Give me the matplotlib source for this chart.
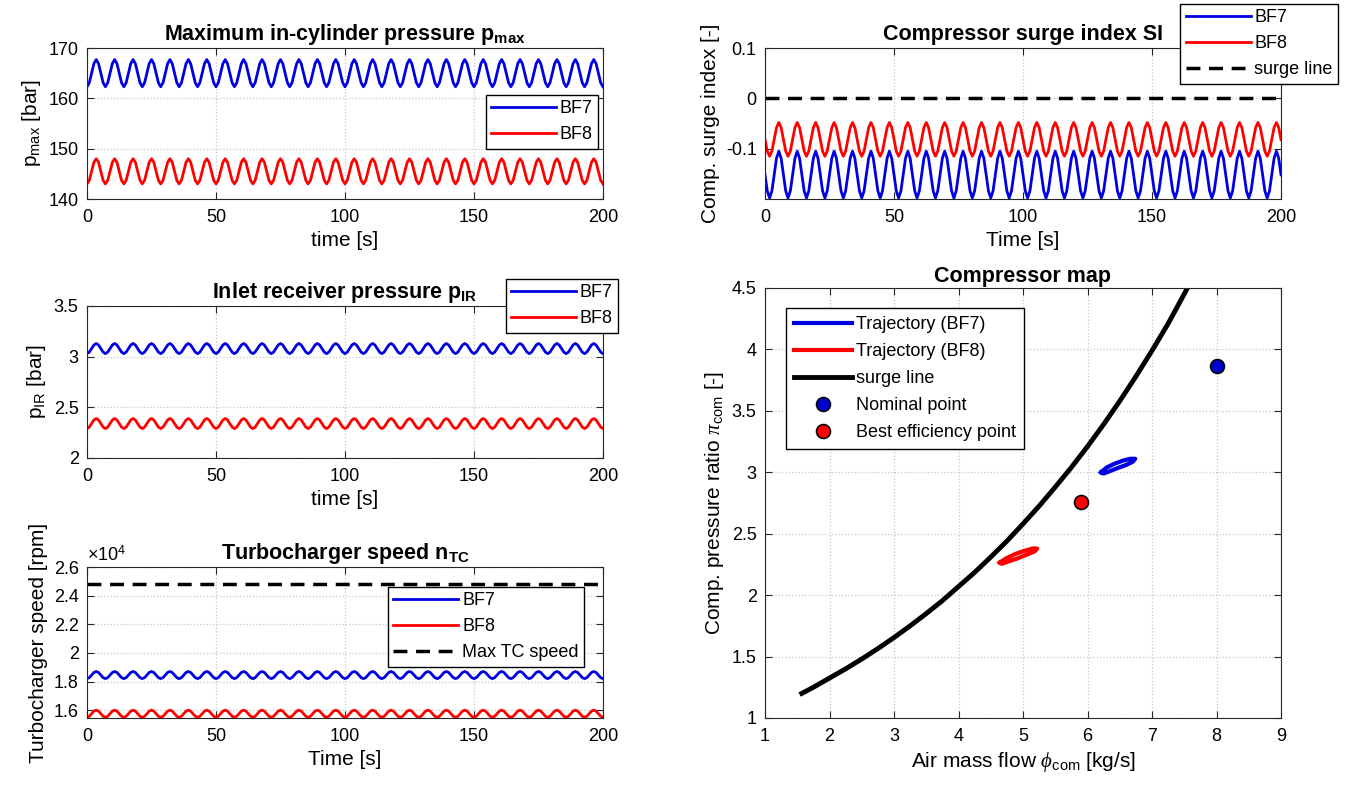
import numpy as np
import matplotlib
matplotlib.use("Agg")
import matplotlib.pyplot as plt

plt.rcParams['font.family'] = ['Liberation Sans', 'DejaVu Sans']
plt.rcParams['mathtext.fontset'] = 'custom'
plt.rcParams['mathtext.rm'] = 'Liberation Sans'
plt.rcParams['mathtext.it'] = 'Liberation Serif:italic'
plt.rcParams['mathtext.bf'] = 'Liberation Sans:bold'
plt.rcParams['xtick.direction'] = 'in'
plt.rcParams['ytick.direction'] = 'in'
plt.rcParams['xtick.top'] = True
plt.rcParams['ytick.right'] = True
plt.rcParams['axes.edgecolor'] = '#262626'

# ---- data ----
t_end = 200.0
n_cycles = 28          # oscillation cycles over 200 s
# one oscillation cycle (8 samples) for each signal, repeated over the run
pmax_bf7_cycle = [162.3, 163.1, 165.0, 166.9, 167.7, 166.9, 165.0, 163.1]
pmax_bf8_cycle = [143.0, 143.7, 145.5, 147.3, 148.0, 147.3, 145.5, 143.7]
pir_bf7_cycle = [3.03, 3.045, 3.08, 3.115, 3.13, 3.115, 3.08, 3.045]
pir_bf8_cycle = [2.29, 2.305, 2.34, 2.375, 2.39, 2.375, 2.34, 2.305]
ntc_bf7_cycle = [18200, 18270, 18450, 18630, 18700, 18630, 18450, 18270]
ntc_bf8_cycle = [15500, 15570, 15750, 15930, 16000, 15930, 15750, 15570]
si_bf7_cycle = [-0.152, -0.184, -0.198, -0.184, -0.152, -0.119, -0.105, -0.119]
si_bf8_cycle = [-0.082, -0.105, -0.115, -0.105, -0.082, -0.058, -0.048, -0.058]
ntc_max = 24800
si_surge = 0.0

# compressor map
surge_flow = [1.57, 1.75, 2.0, 2.25, 2.5, 2.75, 3.0, 3.25, 3.5, 3.75, 4.0, 4.25, 4.5,
              4.75, 5.0, 5.25, 5.5, 5.75, 6.0, 6.25, 6.5, 6.75, 7.0, 7.25, 7.55]
surge_pr = [1.20, 1.25, 1.325, 1.40, 1.48, 1.565, 1.655, 1.75, 1.85, 1.955, 2.07, 2.185, 2.31,
            2.44, 2.58, 2.725, 2.88, 3.04, 3.21, 3.39, 3.58, 3.78, 3.99, 4.21, 4.50]
traj_bf7_flow = [6.21, 6.30, 6.42, 6.55, 6.66, 6.74, 6.70, 6.60, 6.47, 6.35, 6.25, 6.21]
traj_bf7_pr = [3.00, 3.04, 3.07, 3.095, 3.11, 3.11, 3.085, 3.06, 3.035, 3.01, 2.99, 3.00]
traj_bf8_flow = [4.64, 4.74, 4.88, 5.02, 5.15, 5.22, 5.18, 5.06, 4.92, 4.78, 4.67, 4.64]
traj_bf8_pr = [2.265, 2.30, 2.335, 2.36, 2.38, 2.38, 2.355, 2.33, 2.30, 2.275, 2.255, 2.265]
nominal_pt = (8.0, 3.865)
best_eff_pt = (5.9, 2.755)

time_ticks = [0, 50, 100, 150, 200]
ntc_ticks = [16000, 18000, 20000, 22000, 24000, 26000]
ntc_ticklabels = ['1.6', '1.8', '2', '2.2', '2.4', '2.6']


def repeat_cycle(cycle):
    vals = np.tile(cycle, n_cycles)
    return np.append(vals, cycle[0])


n_pts = n_cycles * 8 + 1
t = np.linspace(0, t_end, n_pts)

W, H = 1349, 806
fig = plt.figure(figsize=(W / 100, H / 100), dpi=100)


def px_axes(x0, y0, x1, y1):
    return fig.add_axes([x0 / W, 1 - y1 / H, (x1 - x0) / W, (y1 - y0) / H])


def fig_pt(x, y):
    return (x / W, 1 - y / H)


def style(ax):
    ax.grid(True, color='#c8c8c8', linestyle=':', linewidth=0.9)
    ax.set_axisbelow(True)
    ax.tick_params(labelsize=13, length=5, color='#262626')
    ax.tick_params(axis='x', pad=7)
    ax.tick_params(axis='y', pad=6)


TITLE_FS = 15.5
LABEL_FS = 15
leg_kw = dict(fancybox=False, edgecolor='black', framealpha=1, fontsize=13,
              handlelength=3.6, borderaxespad=0, borderpad=0.3, labelspacing=0.5,
              handletextpad=0.2, bbox_transform=fig.transFigure)
BLUE = '#0000e0'
RED = '#ff0000'

# ---- max in-cylinder pressure ----
ax1 = px_axes(87, 48, 603, 199)
ax1.plot(t, repeat_cycle(pmax_bf7_cycle), color=BLUE, lw=2, label='BF7')
ax1.plot(t, repeat_cycle(pmax_bf8_cycle), color=RED, lw=2, label='BF8')
ax1.set_xlim(0, 200)
ax1.set_xticks(time_ticks)
ax1.set_ylim(140, 170)
ax1.set_yticks([140, 150, 160, 170])
ax1.set_title(r'Maximum in-cylinder pressure $\mathbf{p_{max}}$', fontsize=TITLE_FS, fontweight='bold', pad=6)
ax1.set_xlabel('time [s]', fontsize=LABEL_FS)
ax1.set_ylabel(r'p$_{\rm max}$ [bar]', fontsize=LABEL_FS)
style(ax1)
ax1.legend(loc='upper right', bbox_to_anchor=fig_pt(598, 95), **leg_kw)

# ---- inlet receiver pressure ----
ax2 = px_axes(87, 306, 603, 458)
ax2.plot(t, repeat_cycle(pir_bf7_cycle), color=BLUE, lw=2, label='BF7')
ax2.plot(t, repeat_cycle(pir_bf8_cycle), color=RED, lw=2, label='BF8')
ax2.set_xlim(0, 200)
ax2.set_xticks(time_ticks)
ax2.set_ylim(2, 3.5)
ax2.set_yticks([2, 2.5, 3, 3.5])
ax2.set_yticklabels(['2', '2.5', '3', '3.5'])
ax2.set_title(r'Inlet receiver pressure $\mathbf{p_{IR}}$', fontsize=TITLE_FS, fontweight='bold', pad=6)
ax2.set_xlabel('time [s]', fontsize=LABEL_FS)
ax2.set_ylabel(r'p$_{\rm IR}$ [bar]', fontsize=LABEL_FS)
style(ax2)
ax2.legend(loc='upper right', bbox_to_anchor=fig_pt(618, 279), **leg_kw)

# ---- turbocharger speed ----
ax3 = px_axes(87, 567, 603, 718)
ax3.plot(t, repeat_cycle(ntc_bf7_cycle), color=BLUE, lw=2, label='BF7')
ax3.plot(t, repeat_cycle(ntc_bf8_cycle), color=RED, lw=2, label='BF8')
ax3.axhline(ntc_max, color='black', lw=2.5, ls=(0, (4, 2.5)), label='Max TC speed')
ax3.set_xlim(0, 200)
ax3.set_xticks(time_ticks)
ax3.set_ylim(15450, 26000)
ax3.set_yticks(ntc_ticks)
ax3.set_yticklabels(ntc_ticklabels)
ax3.text(0.0, 1.015, r'$\times$10$^4$', transform=ax3.transAxes, fontsize=13, ha='left', va='bottom')
ax3.set_title(r'Turbocharger speed $\mathbf{n_{TC}}$', fontsize=TITLE_FS, fontweight='bold', pad=6)
ax3.set_xlabel('Time [s]', fontsize=LABEL_FS)
ax3.set_ylabel('Turbocharger speed [rpm]', fontsize=LABEL_FS)
style(ax3)
ax3.legend(loc='upper right', bbox_to_anchor=fig_pt(584, 587), **leg_kw)

# ---- surge index ----
ax4 = px_axes(765, 48, 1281, 199)
ax4.plot(t, repeat_cycle(si_bf7_cycle), color=BLUE, lw=2, label='BF7')
ax4.plot(t, repeat_cycle(si_bf8_cycle), color=RED, lw=2, label='BF8')
ax4.axhline(si_surge, color='black', lw=2.5, ls=(0, (4, 2.5)), label='surge line')
ax4.set_xlim(0, 200)
ax4.set_xticks(time_ticks)
ax4.set_ylim(-0.2, 0.1)
ax4.set_yticks([-0.1, 0, 0.1])
ax4.set_yticklabels(['-0.1', '0', '0.1'])
ax4.set_title('Compressor surge index SI', fontsize=TITLE_FS, fontweight='bold', pad=6)
ax4.set_xlabel('Time [s]', fontsize=LABEL_FS)
ax4.set_ylabel('Comp. surge index [-]', fontsize=LABEL_FS)
style(ax4)
ax4.legend(loc='upper right', bbox_to_anchor=fig_pt(1338, 4), **leg_kw)

# ---- compressor map ----
ax5 = px_axes(765, 288, 1281, 718)
ax5.plot(traj_bf7_flow, traj_bf7_pr, color=BLUE, lw=3, label='Trajectory (BF7)')
ax5.plot(traj_bf8_flow, traj_bf8_pr, color=RED, lw=3, label='Trajectory (BF8)')
ax5.plot(surge_flow, surge_pr, color='black', lw=3.5, label='surge line')
ax5.plot(*nominal_pt, 'o', color='#0000cc', mec='black', mew=1.2, ms=10, ls='none', label='Nominal point')
ax5.plot(*best_eff_pt, 'o', color=RED, mec='black', mew=1.2, ms=10, ls='none', label='Best efficiency point')
ax5.set_xlim(1, 9)
ax5.set_ylim(1, 4.5)
ax5.set_xticks(range(1, 10))
ax5.set_yticks([1, 1.5, 2, 2.5, 3, 3.5, 4, 4.5])
ax5.set_yticklabels(['1', '1.5', '2', '2.5', '3', '3.5', '4', '4.5'])
ax5.set_title('Compressor map', fontsize=TITLE_FS, fontweight='bold', pad=4)
ax5.set_xlabel(r'Air mass flow $\phi_{\rm com}$ [kg/s]', fontsize=LABEL_FS)
ax5.set_ylabel(r'Comp. pressure ratio $\pi_{\rm com}$ [-]', fontsize=LABEL_FS)
style(ax5)
kw5 = dict(leg_kw)
kw5['labelspacing'] = 0.55
kw5['borderpad'] = 0.45
kw5['handlelength'] = 3.2
ax5.legend(loc='upper left', bbox_to_anchor=fig_pt(786, 308), **kw5)

fig.savefig('out.png', dpi=100)
